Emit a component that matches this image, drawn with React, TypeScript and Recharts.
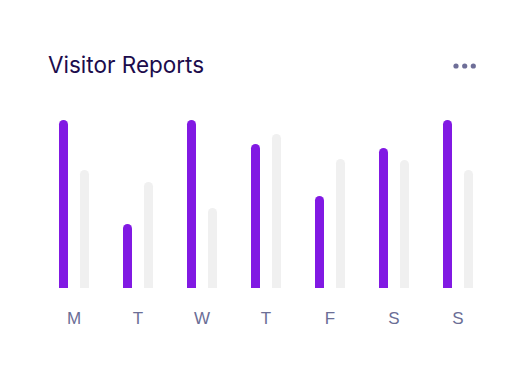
import React from "react";
import { BarChart, Bar, XAxis, YAxis } from "recharts";

const days = ["M", "T", "W", "T", "F", "S", "S"];
const visitorsThisWeek = [168, 64, 168, 144, 92, 140, 168];
const visitorsLastWeek = [118, 106, 80, 154, 129, 128, 118];

const data = days.map((d, i) => ({
  day: d,
  current: visitorsThisWeek[i],
  previous: visitorsLastWeek[i],
}));

export default function App() {
  return (
    <div style={{ position: "absolute", left: 0, top: 0, width: 531, height: 375, background: "#fff" }}>
      <div
        style={{
          position: "absolute",
          left: 48,
          top: 51,
          fontFamily: "Inter, sans-serif",
          fontSize: 22.5,
          color: "#1C0C4C",
          lineHeight: "28px",
          letterSpacing: 0,
        }}
      >
        Visitor Reports
      </div>
      <svg style={{ position: "absolute", left: 0, top: 0 }} width={531} height={375}>
        {[456, 464.7, 473.3].map((cx, i) => (
          <circle key={i} cx={cx} cy={66} r={2.6} fill="#6E6E98" />
        ))}
      </svg>
      <div style={{ position: "absolute", left: 0, top: 0 }}>
        <BarChart
          width={531}
          height={375}
          data={data}
          margin={{ top: 118, right: 41, bottom: 57, left: 42 }}
          barSize={9}
          barGap={12}
        >
          <XAxis
            dataKey="day"
            axisLine={false}
            tickLine={false}
            tickSize={0}
            tickMargin={24}
            height={30}
            interval={0}
            tick={{ fill: "#6B6E96", fontSize: 17, fontFamily: "Liberation Sans, Arial, sans-serif" }}
          />
          <YAxis hide domain={[0, 170]} />
          <Bar dataKey="current" fill="#8119E3" radius={[5, 5, 0, 0]} isAnimationActive={false} />
          <Bar dataKey="previous" fill="#F0F0F0" radius={[5, 5, 0, 0]} isAnimationActive={false} />
        </BarChart>
      </div>
    </div>
  );
}
